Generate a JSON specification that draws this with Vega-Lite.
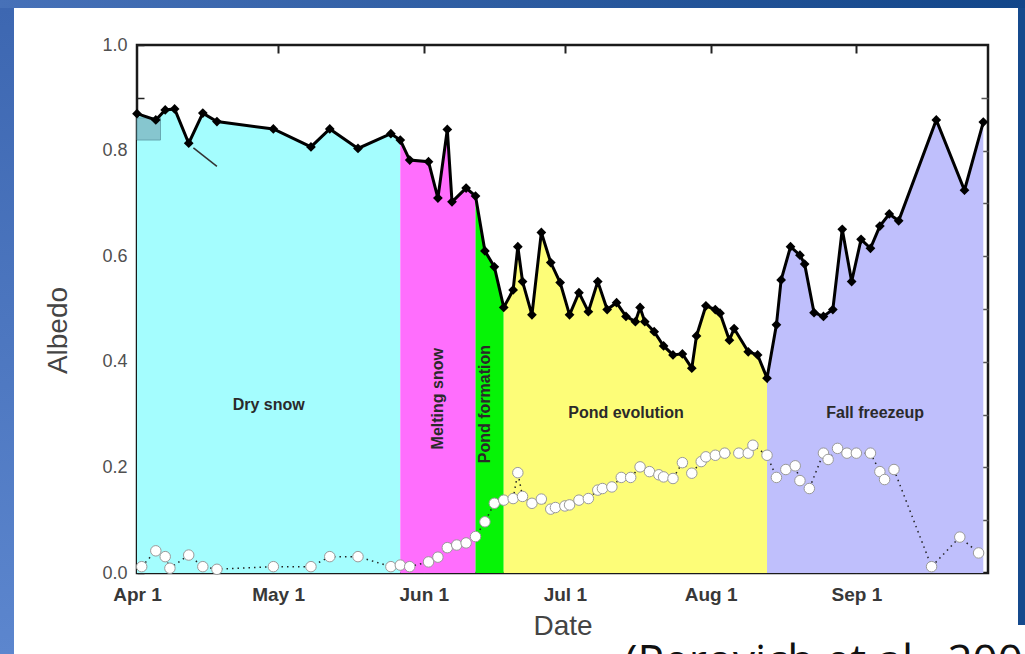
{
  "$schema": "https://vega.github.io/schema/vega-lite/v6.json",
  "background": "white",
  "padding": 0,
  "autosize": {"type": "pad"},
  "bounds": "flush",
  "spacing": 0,
  "config": {"view": {"stroke": null}, "font": "Liberation Sans"},
  "datasets": {
    "albedo": [
      {"date": "1998-04-01", "albedo": 0.870, "phase": ["Dry snow"]},
      {"date": "1998-04-05", "albedo": 0.858, "phase": ["Dry snow"]},
      {"date": "1998-04-07", "albedo": 0.877, "phase": ["Dry snow"]},
      {"date": "1998-04-09", "albedo": 0.879, "phase": ["Dry snow"]},
      {"date": "1998-04-12", "albedo": 0.814, "phase": ["Dry snow"]},
      {"date": "1998-04-15", "albedo": 0.871, "phase": ["Dry snow"]},
      {"date": "1998-04-18", "albedo": 0.855, "phase": ["Dry snow"]},
      {"date": "1998-04-30", "albedo": 0.841, "phase": ["Dry snow"]},
      {"date": "1998-05-08", "albedo": 0.807, "phase": ["Dry snow"]},
      {"date": "1998-05-12", "albedo": 0.841, "phase": ["Dry snow"]},
      {"date": "1998-05-18", "albedo": 0.804, "phase": ["Dry snow"]},
      {"date": "1998-05-25", "albedo": 0.832, "phase": ["Dry snow"]},
      {"date": "1998-05-27", "albedo": 0.820, "phase": ["Dry snow", "Melting snow"]},
      {"date": "1998-05-29", "albedo": 0.782, "phase": ["Melting snow"]},
      {"date": "1998-06-02", "albedo": 0.779, "phase": ["Melting snow"]},
      {"date": "1998-06-04", "albedo": 0.710, "phase": ["Melting snow"]},
      {"date": "1998-06-06", "albedo": 0.840, "phase": ["Melting snow"]},
      {"date": "1998-06-07", "albedo": 0.703, "phase": ["Melting snow"]},
      {"date": "1998-06-10", "albedo": 0.729, "phase": ["Melting snow"]},
      {"date": "1998-06-12", "albedo": 0.714, "phase": ["Melting snow", "Pond formation"]},
      {"date": "1998-06-14", "albedo": 0.610, "phase": ["Pond formation"]},
      {"date": "1998-06-16", "albedo": 0.580, "phase": ["Pond formation"]},
      {"date": "1998-06-18", "albedo": 0.503, "phase": ["Pond formation", "Pond evolution"]},
      {"date": "1998-06-20", "albedo": 0.536, "phase": ["Pond evolution"]},
      {"date": "1998-06-21", "albedo": 0.618, "phase": ["Pond evolution"]},
      {"date": "1998-06-22", "albedo": 0.552, "phase": ["Pond evolution"]},
      {"date": "1998-06-24", "albedo": 0.489, "phase": ["Pond evolution"]},
      {"date": "1998-06-26", "albedo": 0.645, "phase": ["Pond evolution"]},
      {"date": "1998-06-28", "albedo": 0.588, "phase": ["Pond evolution"]},
      {"date": "1998-06-30", "albedo": 0.550, "phase": ["Pond evolution"]},
      {"date": "1998-07-02", "albedo": 0.489, "phase": ["Pond evolution"]},
      {"date": "1998-07-04", "albedo": 0.531, "phase": ["Pond evolution"]},
      {"date": "1998-07-06", "albedo": 0.495, "phase": ["Pond evolution"]},
      {"date": "1998-07-08", "albedo": 0.552, "phase": ["Pond evolution"]},
      {"date": "1998-07-10", "albedo": 0.499, "phase": ["Pond evolution"]},
      {"date": "1998-07-12", "albedo": 0.512, "phase": ["Pond evolution"]},
      {"date": "1998-07-14", "albedo": 0.486, "phase": ["Pond evolution"]},
      {"date": "1998-07-16", "albedo": 0.476, "phase": ["Pond evolution"]},
      {"date": "1998-07-17", "albedo": 0.503, "phase": ["Pond evolution"]},
      {"date": "1998-07-18", "albedo": 0.476, "phase": ["Pond evolution"]},
      {"date": "1998-07-20", "albedo": 0.457, "phase": ["Pond evolution"]},
      {"date": "1998-07-22", "albedo": 0.430, "phase": ["Pond evolution"]},
      {"date": "1998-07-24", "albedo": 0.413, "phase": ["Pond evolution"]},
      {"date": "1998-07-26", "albedo": 0.415, "phase": ["Pond evolution"]},
      {"date": "1998-07-28", "albedo": 0.388, "phase": ["Pond evolution"]},
      {"date": "1998-07-29", "albedo": 0.449, "phase": ["Pond evolution"]},
      {"date": "1998-07-31", "albedo": 0.506, "phase": ["Pond evolution"]},
      {"date": "1998-08-02", "albedo": 0.499, "phase": ["Pond evolution"]},
      {"date": "1998-08-03", "albedo": 0.492, "phase": ["Pond evolution"]},
      {"date": "1998-08-05", "albedo": 0.441, "phase": ["Pond evolution"]},
      {"date": "1998-08-06", "albedo": 0.463, "phase": ["Pond evolution"]},
      {"date": "1998-08-09", "albedo": 0.419, "phase": ["Pond evolution"]},
      {"date": "1998-08-11", "albedo": 0.413, "phase": ["Pond evolution"]},
      {"date": "1998-08-13", "albedo": 0.369, "phase": ["Pond evolution", "Fall freezeup"]},
      {"date": "1998-08-15", "albedo": 0.470, "phase": ["Fall freezeup"]},
      {"date": "1998-08-16", "albedo": 0.555, "phase": ["Fall freezeup"]},
      {"date": "1998-08-18", "albedo": 0.618, "phase": ["Fall freezeup"]},
      {"date": "1998-08-20", "albedo": 0.602, "phase": ["Fall freezeup"]},
      {"date": "1998-08-21", "albedo": 0.585, "phase": ["Fall freezeup"]},
      {"date": "1998-08-23", "albedo": 0.493, "phase": ["Fall freezeup"]},
      {"date": "1998-08-25", "albedo": 0.486, "phase": ["Fall freezeup"]},
      {"date": "1998-08-27", "albedo": 0.499, "phase": ["Fall freezeup"]},
      {"date": "1998-08-29", "albedo": 0.651, "phase": ["Fall freezeup"]},
      {"date": "1998-08-31", "albedo": 0.552, "phase": ["Fall freezeup"]},
      {"date": "1998-09-02", "albedo": 0.632, "phase": ["Fall freezeup"]},
      {"date": "1998-09-04", "albedo": 0.615, "phase": ["Fall freezeup"]},
      {"date": "1998-09-06", "albedo": 0.657, "phase": ["Fall freezeup"]},
      {"date": "1998-09-08", "albedo": 0.680, "phase": ["Fall freezeup"]},
      {"date": "1998-09-10", "albedo": 0.667, "phase": ["Fall freezeup"]},
      {"date": "1998-09-18", "albedo": 0.858, "phase": ["Fall freezeup"]},
      {"date": "1998-09-24", "albedo": 0.725, "phase": ["Fall freezeup"]},
      {"date": "1998-09-28", "albedo": 0.854, "phase": ["Fall freezeup"]}
    ],
    "ponds": [
      {"date": "1998-04-02", "value": 0.012},
      {"date": "1998-04-05", "value": 0.042},
      {"date": "1998-04-07", "value": 0.031},
      {"date": "1998-04-08", "value": 0.009},
      {"date": "1998-04-12", "value": 0.034},
      {"date": "1998-04-15", "value": 0.012},
      {"date": "1998-04-18", "value": 0.007},
      {"date": "1998-04-30", "value": 0.012},
      {"date": "1998-05-08", "value": 0.012},
      {"date": "1998-05-12", "value": 0.031},
      {"date": "1998-05-18", "value": 0.031},
      {"date": "1998-05-25", "value": 0.012},
      {"date": "1998-05-27", "value": 0.015},
      {"date": "1998-05-29", "value": 0.012},
      {"date": "1998-06-02", "value": 0.021},
      {"date": "1998-06-04", "value": 0.030},
      {"date": "1998-06-06", "value": 0.048},
      {"date": "1998-06-08", "value": 0.053},
      {"date": "1998-06-10", "value": 0.057},
      {"date": "1998-06-12", "value": 0.069},
      {"date": "1998-06-14", "value": 0.097},
      {"date": "1998-06-16", "value": 0.132},
      {"date": "1998-06-18", "value": 0.138},
      {"date": "1998-06-20", "value": 0.141},
      {"date": "1998-06-21", "value": 0.190},
      {"date": "1998-06-22", "value": 0.145},
      {"date": "1998-06-24", "value": 0.132},
      {"date": "1998-06-26", "value": 0.140},
      {"date": "1998-06-28", "value": 0.121},
      {"date": "1998-06-29", "value": 0.124},
      {"date": "1998-07-01", "value": 0.127},
      {"date": "1998-07-02", "value": 0.129},
      {"date": "1998-07-04", "value": 0.138},
      {"date": "1998-07-06", "value": 0.141},
      {"date": "1998-07-08", "value": 0.157},
      {"date": "1998-07-09", "value": 0.160},
      {"date": "1998-07-11", "value": 0.163},
      {"date": "1998-07-13", "value": 0.181},
      {"date": "1998-07-15", "value": 0.181},
      {"date": "1998-07-17", "value": 0.201},
      {"date": "1998-07-19", "value": 0.192},
      {"date": "1998-07-21", "value": 0.186},
      {"date": "1998-07-22", "value": 0.182},
      {"date": "1998-07-24", "value": 0.179},
      {"date": "1998-07-26", "value": 0.209},
      {"date": "1998-07-28", "value": 0.189},
      {"date": "1998-07-30", "value": 0.211},
      {"date": "1998-07-31", "value": 0.220},
      {"date": "1998-08-02", "value": 0.223},
      {"date": "1998-08-04", "value": 0.227},
      {"date": "1998-08-07", "value": 0.227},
      {"date": "1998-08-09", "value": 0.227},
      {"date": "1998-08-10", "value": 0.242},
      {"date": "1998-08-13", "value": 0.223},
      {"date": "1998-08-15", "value": 0.181},
      {"date": "1998-08-17", "value": 0.196},
      {"date": "1998-08-19", "value": 0.203},
      {"date": "1998-08-20", "value": 0.175},
      {"date": "1998-08-22", "value": 0.160},
      {"date": "1998-08-25", "value": 0.227},
      {"date": "1998-08-26", "value": 0.215},
      {"date": "1998-08-28", "value": 0.236},
      {"date": "1998-08-30", "value": 0.227},
      {"date": "1998-09-01", "value": 0.227},
      {"date": "1998-09-04", "value": 0.227},
      {"date": "1998-09-06", "value": 0.192},
      {"date": "1998-09-07", "value": 0.177},
      {"date": "1998-09-09", "value": 0.196},
      {"date": "1998-09-17", "value": 0.012},
      {"date": "1998-09-23", "value": 0.068},
      {"date": "1998-09-27", "value": 0.038}
    ],
    "phaseLabels": [
      {"label": "Dry snow", "date": "1998-04-29", "y": 0.318, "vertical": false},
      {"label": "Pond evolution", "date": "1998-07-14", "y": 0.303, "vertical": false},
      {"label": "Fall freezeup", "date": "1998-09-05", "y": 0.303, "vertical": false},
      {"label": "Melting snow", "date": "1998-06-04", "y": 0.33, "vertical": true},
      {"label": "Pond formation", "date": "1998-06-14", "y": 0.32, "vertical": true}
    ]
  },
  "vconcat": [
    {
      "width": 1025,
      "height": 8,
      "view": {"fill": "#2f5ca3", "stroke": null},
      "data": {"values": [{}]},
      "mark": {
        "type": "rect",
        "color": {"gradient": "linear", "x1": 0, "y1": 0, "x2": 1, "y2": 0,
          "stops": [{"offset": 0, "color": "#4771b8"}, {"offset": 1, "color": "#124689"}]}
      },
      "encoding": {}
    },
    {
      "bounds": "flush",
      "spacing": 0,
      "hconcat": [
        {
          "width": 14,
          "height": 646,
          "view": {"fill": "#4c76be", "stroke": null},
          "data": {"values": [{}]},
          "mark": {
            "type": "rect",
            "color": {"gradient": "linear", "x1": 0, "y1": 0, "x2": 0, "y2": 1,
              "stops": [{"offset": 0, "color": "#3d67b1"}, {"offset": 1, "color": "#5c86ce"}]}
          },
          "encoding": {}
        },
        {"width": 1004, "height": 1, "data": {"values": []}, "mark": "rect", "encoding": {}},
        {
          "width": 7,
          "height": 617,
          "view": {"fill": "#154a8d", "stroke": null},
          "data": {"values": []},
          "mark": "rect",
          "encoding": {}
        }
      ]
    },
    {
      "bounds": "flush",
      "spacing": 36,
      "vconcat": [
        {"width": 1, "height": 1, "data": {"values": []}, "mark": "rect", "encoding": {}},
        {
          "bounds": "flush",
          "spacing": 136,
          "hconcat": [
            {"width": 1, "height": 1, "data": {"values": []}, "mark": "rect", "encoding": {}},
            {
              "width": 851,
              "height": 528,
              "view": {"stroke": "#1a1a1a", "strokeWidth": 2.5},
              "resolve": {"axis": {"x": "independent", "y": "independent"}},
              "layer": [
                {
                  "data": {"name": "albedo"},
                  "transform": [{"flatten": ["phase"]}],
                  "mark": {"type": "area", "opacity": 1},
                  "encoding": {
                    "x": {
                      "field": "date", "type": "temporal",
                      "scale": {"type": "utc", "domain": [
                        {"year": 1998, "month": 4, "date": 1, "utc": true},
                        {"year": 1998, "month": 9, "date": 29, "utc": true}]},
                      "axis": {
                        "orient": "bottom",
                        "values": [
                          {"year": 1998, "month": 4, "date": 1, "utc": true},
                          {"year": 1998, "month": 5, "date": 1, "utc": true},
                          {"year": 1998, "month": 6, "date": 1, "utc": true},
                          {"year": 1998, "month": 7, "date": 1, "utc": true},
                          {"year": 1998, "month": 8, "date": 1, "utc": true},
                          {"year": 1998, "month": 9, "date": 1, "utc": true}],
                        "format": "%b %-d",
                        "domain": false, "grid": false,
                        "tickSize": -8, "tickWidth": 2, "tickColor": "#222",
                        "labelPadding": 20, "labelFontSize": 19, "labelFontWeight": "bold",
                        "labelColor": "#383838", "labelFlush": false, "labelOverlap": false,
                        "title": "Date", "titleFontSize": 28, "titleFontWeight": "normal",
                        "titleColor": "#444", "titlePadding": 8
                      }
                    },
                    "y": {
                      "field": "albedo", "type": "quantitative", "stack": null,
                      "scale": {"domain": [0, 1], "nice": false},
                      "axis": {
                        "orient": "left",
                        "values": [0, 0.1, 0.2, 0.3, 0.4, 0.5, 0.6, 0.7, 0.8, 0.9, 1.0],
                        "labelExpr": "round(datum.value * 10) % 2 === 0 ? format(datum.value, '.1f') : ''",
                        "domain": false, "grid": false,
                        "tickSize": -7, "tickWidth": 1.5, "tickColor": "#222",
                        "labelPadding": 17, "labelFontSize": 18, "labelFontWeight": "normal",
                        "labelColor": "#505050", "labelFlush": false, "labelOverlap": false,
                        "title": "Albedo", "titleFontSize": 28, "titleFontWeight": "normal",
                        "titleColor": "#444", "titlePadding": 29, "titleY": 285
                      }
                    },
                    "color": {
                      "field": "phase", "type": "nominal", "legend": null,
                      "scale": {
                        "domain": ["Dry snow", "Melting snow", "Pond formation", "Pond evolution", "Fall freezeup"],
                        "range": ["#a4fdfe", "#ff6efd", "#06f406", "#fdfd78", "#bfbffc"]
                      }
                    }
                  }
                },
                {
                  "data": {"values": [{"start": "1998-04-01", "end": "1998-04-06", "low": 0.82, "high": 0.862}]},
                  "mark": {"type": "rect", "fill": "#86c6cf", "stroke": "#5d9aa5", "strokeWidth": 0.8},
                  "encoding": {
                    "x": {"field": "start", "type": "temporal", "axis": null},
                    "x2": {"field": "end"},
                    "y": {"field": "low", "type": "quantitative", "axis": null},
                    "y2": {"field": "high"}
                  }
                },
                {
                  "data": {"values": [{"from": "1998-04-13", "to": "1998-04-18", "top": 0.805, "bottom": 0.77}]},
                  "mark": {"type": "rule", "color": "#333", "strokeWidth": 1.5},
                  "encoding": {
                    "x": {"field": "from", "type": "temporal", "axis": null},
                    "x2": {"field": "to"},
                    "y": {"field": "top", "type": "quantitative", "axis": null},
                    "y2": {"field": "bottom"}
                  }
                },
                {
                  "data": {"name": "ponds"},
                  "mark": {"type": "line", "color": "#222", "strokeWidth": 1.5, "strokeDash": [1.5, 4]},
                  "encoding": {
                    "x": {"field": "date", "type": "temporal", "axis": null},
                    "y": {"field": "value", "type": "quantitative", "axis": null}
                  }
                },
                {
                  "data": {"name": "ponds"},
                  "mark": {"type": "point", "shape": "circle", "filled": true, "fill": "white", "stroke": "#9a9a9a", "strokeWidth": 1, "size": 110, "opacity": 1},
                  "encoding": {
                    "x": {"field": "date", "type": "temporal", "axis": null},
                    "y": {"field": "value", "type": "quantitative", "axis": null}
                  }
                },
                {
                  "data": {"name": "albedo"},
                  "mark": {"type": "line", "color": "#000", "strokeWidth": 3},
                  "encoding": {
                    "x": {
                      "field": "date", "type": "temporal",
                      "axis": {
                        "orient": "top",
                        "values": [
                          {"year": 1998, "month": 5, "date": 1, "utc": true},
                          {"year": 1998, "month": 6, "date": 1, "utc": true},
                          {"year": 1998, "month": 7, "date": 1, "utc": true},
                          {"year": 1998, "month": 8, "date": 1, "utc": true},
                          {"year": 1998, "month": 9, "date": 1, "utc": true}],
                        "labels": false, "domain": false, "grid": false, "title": null,
                        "tickSize": -8, "tickWidth": 2, "tickColor": "#222"
                      }
                    },
                    "y": {
                      "field": "albedo", "type": "quantitative",
                      "axis": {
                        "orient": "right",
                        "values": [0.1, 0.2, 0.3, 0.4, 0.5, 0.6, 0.7, 0.8, 0.9],
                        "labels": false, "domain": false, "grid": false, "title": null,
                        "tickSize": -7, "tickWidth": 1.5, "tickColor": "#555"
                      }
                    }
                  }
                },
                {
                  "data": {"name": "albedo"},
                  "mark": {"type": "point", "shape": "diamond", "filled": true, "color": "#000", "size": 95, "opacity": 1},
                  "encoding": {
                    "x": {"field": "date", "type": "temporal", "axis": null},
                    "y": {"field": "albedo", "type": "quantitative", "axis": null}
                  }
                },
                {
                  "data": {"name": "phaseLabels"},
                  "transform": [{"filter": "!datum.vertical"}],
                  "mark": {"type": "text", "fontSize": 16, "fontWeight": "bold", "color": "#2a2a2a", "align": "center", "baseline": "middle"},
                  "encoding": {
                    "x": {"field": "date", "type": "temporal", "axis": null},
                    "y": {"field": "y", "type": "quantitative", "axis": null},
                    "text": {"field": "label"}
                  }
                },
                {
                  "data": {"name": "phaseLabels"},
                  "transform": [{"filter": "datum.vertical"}],
                  "mark": {"type": "text", "fontSize": 16, "fontWeight": "bold", "color": "#2a2a2a", "align": "center", "baseline": "middle", "angle": 270},
                  "encoding": {
                    "x": {"field": "date", "type": "temporal", "axis": null},
                    "y": {"field": "y", "type": "quantitative", "axis": null},
                    "text": {"field": "label"}
                  }
                }
              ]
            }
          ]
        }
      ]
    },
    {
      "bounds": "flush",
      "spacing": 616,
      "vconcat": [
        {"width": 1, "height": 1, "data": {"values": []}, "mark": "rect", "encoding": {}},
        {
          "bounds": "flush",
          "spacing": 13,
          "hconcat": [
            {"width": 1, "height": 1, "data": {"values": []}, "mark": "rect", "encoding": {}},
            {
              "width": 1011,
              "height": 29,
              "data": {"values": [{"citation": "(Perovich et al., 2002)"}]},
              "mark": {"type": "text", "clip": true, "font": "Open Sans", "fontSize": 44, "color": "#111",
                "align": "left", "baseline": "top", "dx": 105, "dy": 1},
              "encoding": {"text": {"field": "citation"}}
            }
          ]
        }
      ]
    }
  ]
}
